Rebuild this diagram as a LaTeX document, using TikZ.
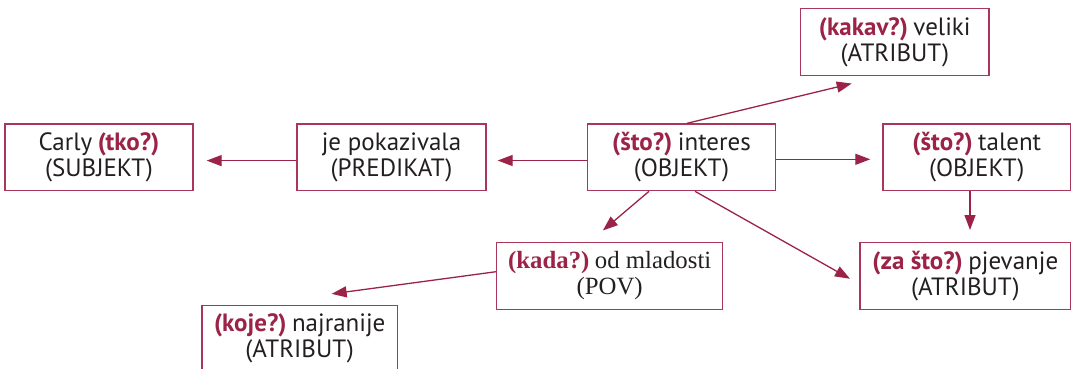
\documentclass[tikz,border=0pt]{standalone}
\usepackage{fontspec}
\setmainfont{PT Sans}
\newfontfamily\serifx{Liberation Serif}
\usetikzlibrary{arrows.meta}
\definecolor{qred}{RGB}{155,35,72}
\definecolor{bord}{RGB}{168,55,90}
\definecolor{txt}{RGB}{35,31,32}
\newcommand{\qlab}[1]{\textbf{\color{qred}#1}}
\newcommand{\gap}{\hspace{0.22em}}
\begin{document}
\begin{tikzpicture}[x=1pt,y=-1pt,
  box/.style={draw=bord, line width=1.3pt, inner sep=0pt, minimum height=66.7pt,
    align=center, text=txt, font=\fontsize{25}{26}\selectfont},
  arr/.style={draw=qred, line width=1.3pt, -{Triangle[length=15pt,width=11pt]}}]
\useasboundingbox (0,0) rectangle (1074,368);
\node[box, minimum width=188pt] (subj) at (99,157.3) {Carly\gap\qlab{(tko?)}\\(SUBJEKT)};
\node[box, minimum width=189pt] (pred) at (391.5,157.3) {je pokazivala\\(PREDIKAT)};
\node[box, minimum width=188.4pt] (int) at (681.5,157.3) {\qlab{(što?)}\gap interes\\(OBJEKT)};
\node[box, minimum width=188.3pt] (kak) at (894.8,42) {\qlab{(kakav?)}\gap veliki\\(ATRIBUT)};
\node[box, minimum width=187.7pt] (tal) at (976.8,157.3) {\qlab{(što?)}\gap talent\\(OBJEKT)};
\node[box, minimum width=226pt, font=\serifx\fontsize{24.8}{26}\selectfont] (kada) at (609.7,276) {\qlab{(kada?)}\gap od mladosti\\(POV)};
\node[box, minimum width=210.7pt] (zas) at (965.3,276) {\qlab{(za što?)}\gap pjevanje\\(ATRIBUT)};
\node[box, minimum width=195.3pt] (koje) at (299.7,338.7) {\qlab{(koje?)}\gap najranije\\(ATRIBUT)};
\draw[arr, shorten >=13pt] ([yshift=-3.3pt]pred.west) -- ([yshift=-3.3pt]subj.east);
\draw[arr, shorten >=11pt] ([yshift=-3.2pt]int.west) -- ([yshift=-3.2pt]pred.east);
\draw[arr, shorten >=12pt] ([yshift=-2pt]int.east) -- ([yshift=-2pt]tal.west);
\draw[arr, shorten >=32pt] ([xshift=5.5pt]int.north) -- ([xshift=-12pt]kak.south);
\draw[arr, shorten >=17.8pt] ([xshift=-32.5pt]int.south) -- ([xshift=-20.4pt]kada.north);
\draw[arr, shorten >=10.7pt] ([xshift=13.5pt]int.south) -- ([yshift=-8pt]zas.west);
\draw[arr, shorten >=12pt] ([xshift=-6.8pt]tal.south) -- ([xshift=4.7pt]zas.north);
\draw[arr, shorten >=81pt] ([yshift=4.3pt]kada.west) -- ([xshift=-48.3pt]koje.north);
\end{tikzpicture}
\end{document}
